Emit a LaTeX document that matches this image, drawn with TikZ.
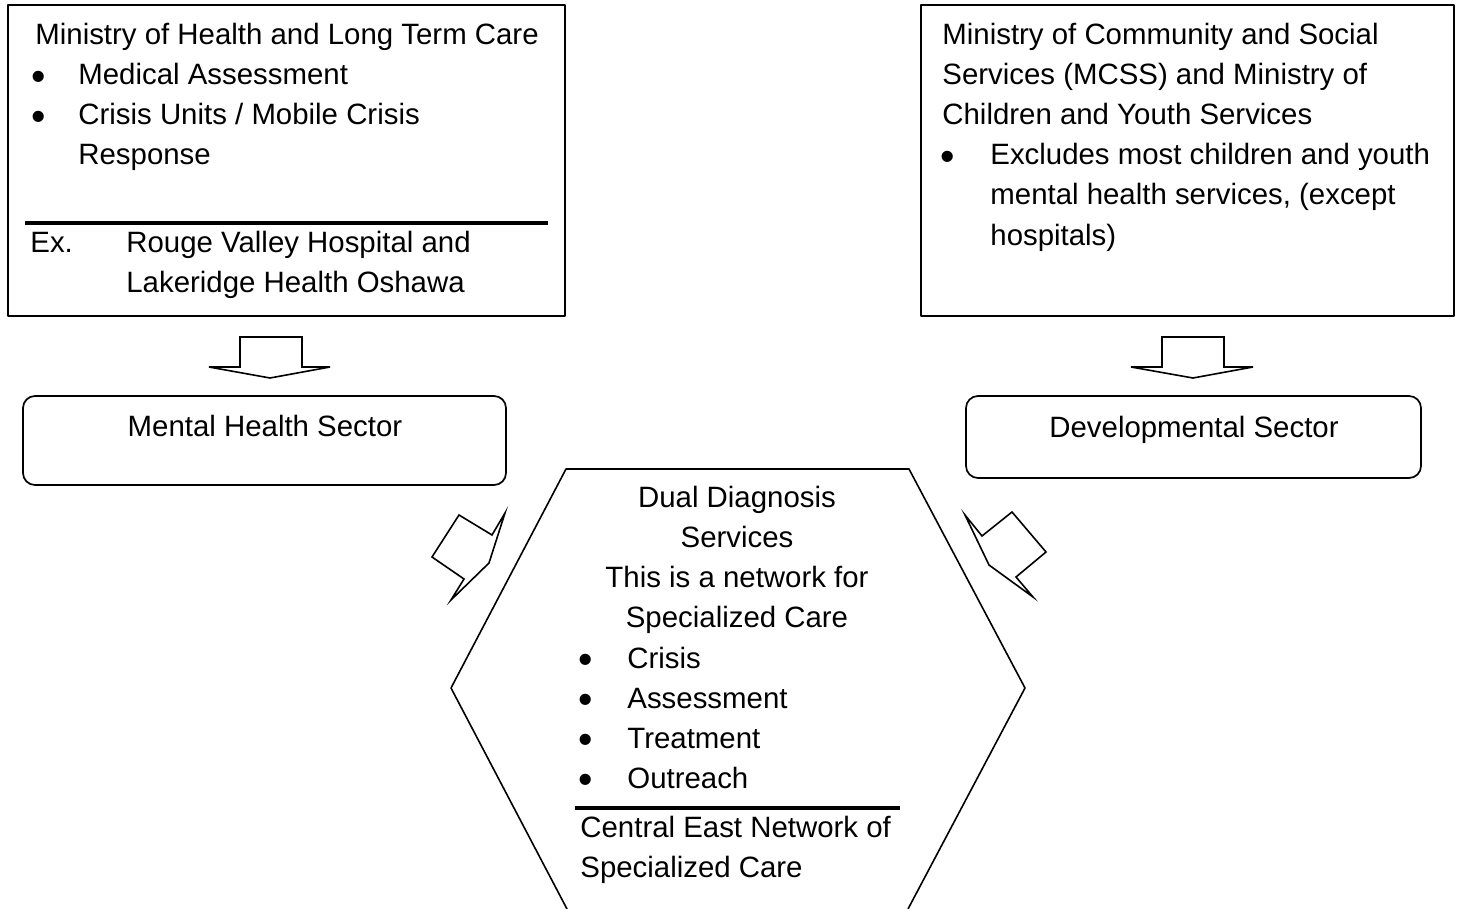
\documentclass[tikz,border=0pt]{standalone}
\usepackage{graphicx}
\usepackage{fontspec}
\setmainfont{Liberation Sans}
\usetikzlibrary{fit}
\newcommand{\rows}[1]{\begin{tabular}[t]{@{}l@{}}#1\end{tabular}}
\newcommand{\crows}[1]{\begin{tabular}[t]{@{}c@{}}#1\end{tabular}}
\newcommand{\blt}{\raisebox{-2.8pt}{\scalebox{1.4}{\textbullet}}}
\tikzset{
  frame/.style={draw, line width=.85pt, inner sep=0pt},
  sector/.style={frame, rounded corners=6pt},
  txt/.style={anchor=base west, inner sep=0pt},
  mid/.style={anchor=base, inner sep=0pt},
  bar/.style={line width=2pt},
  blk/.style={draw, line width=.8pt, line join=miter},
}
\begin{document}
\begin{tikzpicture}[x=.5pt, y=-.5pt, font=\fontsize{14.7}{20}\selectfont, line join=round]
\useasboundingbox (0,0) rectangle (1460,909);
% ministry of health
\node[frame, fit={(8,5) (565,316)}] (moh) {};
\node[txt] (mohT) at (35,45) {Ministry of Health and Long Term Care};
\node[txt] at (31,85) {\blt};
\node[txt] (mohA) at (78,85) {Medical Assessment};
\node[txt] at (31,125) {\blt};
\node[txt] (mohB) at (78,125) {\rows{Crisis Units / Mobile Crisis\\Response}};
\draw[bar] (25,223) -- (548,223);
\node[txt] at (30,252) {Ex.};
\node[txt] (mohEx) at (126,252) {\rows{Rouge Valley Hospital and\\Lakeridge Health Oshawa}};
% ministry of community
\node[frame, fit={(921,5) (1454,316)}] (mcss) {};
\node[txt] (mcssT) at (942,45) {\rows{Ministry of Community and Social\\Services (MCSS) and Ministry of\\Children and Youth Services}};
\node[txt] at (940,165) {\blt};
\node[txt] (mcssA) at (990,165) {\rows{Excludes most children and youth\\mental health services, (except\\hospitals)}};
% block arrows down
\draw[blk] (240,337) -- (302,337) -- (302,367) -- (330,367) -- (270,378) -- (209,367) -- (240,367) -- cycle;
\draw[blk] (1162,337) -- (1224,337) -- (1224,367) -- (1253,367) -- (1193,378) -- (1131,367) -- (1162,367) -- cycle;
% sectors
\node[sector, fit={(23,396) (506,485)}] (mhs) {};
\node[mid] (mhsT) at (265,436) {Mental Health Sector};
\node[sector, fit={(966,396) (1421,478)}] (devs) {};
\node[mid] (devsT) at (1194,437) {Developmental Sector};
% bent arrows
\draw[blk] (459,515) -- (492,535) -- (505,513) -- (489,563) -- (451,600) -- (464,579) -- (432,557) -- cycle;
\draw[blk] (965,515) -- (982,536) -- (1012,512) -- (1046,552) -- (1016,577) -- (1033,597) -- (989,565) -- cycle;
% dual diagnosis
\draw[line width=.8pt] (567,909) -- (451,688) -- (566,469) -- (909,469) -- (1025,688) -- (908,909);
\node[mid] (dds) at (737,507) {\crows{Dual Diagnosis\\Services\\This is a network for\\Specialized Care}};
\foreach \t [count=\i] in {Crisis, Assessment, Treatment, Outreach}{
  \node[txt] at (578,628+40*\i) {\blt};
  \node[txt] (dds\i) at (627,628+40*\i) {\t};
}
\draw[bar] (575,808) -- (900,808);
\node[txt] (cen) at (580,837) {\rows{Central East Network of\\Specialized Care}};
\end{tikzpicture}
\end{document}
